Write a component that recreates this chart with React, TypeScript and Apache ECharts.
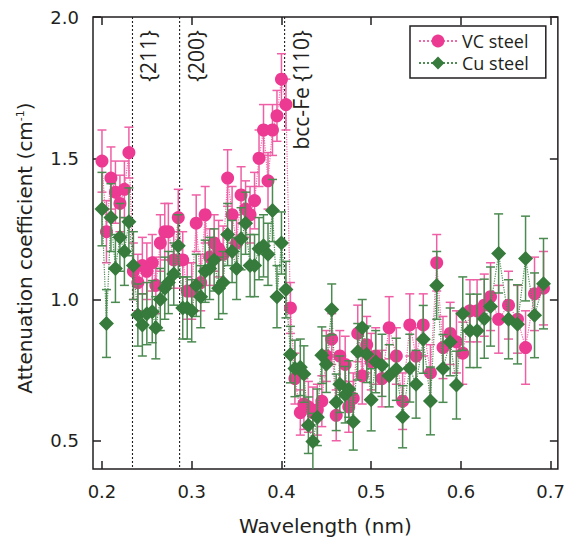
import React, { useEffect, useRef } from 'react';
import * as echarts from 'echarts';

const wavelength = [
  0.200, 0.205, 0.210, 0.215, 0.220, 0.225, 0.230, 0.235, 0.240, 0.245,
  0.250, 0.256, 0.260, 0.265, 0.270, 0.274, 0.280, 0.285, 0.290, 0.295,
  0.300, 0.305, 0.310, 0.315, 0.320, 0.325, 0.330, 0.335, 0.340, 0.345,
  0.350, 0.355, 0.360, 0.365, 0.370, 0.375, 0.380, 0.385, 0.390, 0.395,
  0.400, 0.405, 0.410, 0.415, 0.421, 0.425, 0.430, 0.435, 0.440, 0.445,
  0.450, 0.456, 0.461, 0.465, 0.471, 0.475, 0.480, 0.485, 0.490, 0.495,
  0.500, 0.505, 0.512, 0.520, 0.528, 0.535, 0.543, 0.550, 0.558, 0.566,
  0.573, 0.580, 0.588, 0.595, 0.602, 0.610, 0.618, 0.626, 0.633, 0.642,
  0.653, 0.663, 0.672, 0.682, 0.692,
];

const vcSteel = [
  1.49, 1.24, 1.43, 1.38, 1.34, 1.39, 1.52, 1.10, 1.06, 1.12,
  1.10, 1.13, 1.05, 1.20, 1.24, 1.24, 1.14, 1.29, 1.14, 1.03,
  1.03, 1.27, 1.06, 1.30, 1.15, 1.20, 1.18, 1.16, 1.43, 1.30,
  1.20, 1.37, 1.32, 1.30, 1.35, 1.50, 1.60, 1.42, 1.60, 1.65,
  1.78, 1.69, 0.97, 0.72, 0.60, 0.63, 0.62, 0.60, 0.61, 0.64,
  0.80, 0.86, 0.59, 0.80, 0.77, 0.62, 0.65, 0.88, 0.73, 0.84,
  0.78, 0.80, 0.72, 0.90, 0.80, 0.64, 0.91, 0.80, 0.91, 0.74,
  1.13, 0.83, 0.88, 0.85, 0.81, 0.96, 0.96, 0.98, 1.01, 0.93,
  0.98, 0.93, 0.83, 1.02, 1.04,
];

const vcError = [
  0.11, 0.11, 0.11, 0.11, 0.10, 0.10, 0.09, 0.10, 0.10, 0.10,
  0.10, 0.10, 0.10, 0.10, 0.10, 0.10, 0.10, 0.10, 0.10, 0.10,
  0.10, 0.10, 0.10, 0.10, 0.10, 0.10, 0.10, 0.10, 0.10, 0.10,
  0.10, 0.10, 0.10, 0.10, 0.10, 0.10, 0.09, 0.10, 0.09, 0.09,
  0.09, 0.09, 0.09, 0.09, 0.08, 0.09, 0.09, 0.09, 0.09, 0.09,
  0.09, 0.09, 0.09, 0.09, 0.10, 0.09, 0.09, 0.10, 0.10, 0.10,
  0.10, 0.10, 0.10, 0.11, 0.10, 0.10, 0.11, 0.10, 0.11, 0.10,
  0.10, 0.11, 0.11, 0.11, 0.11, 0.11, 0.11, 0.11, 0.12, 0.12,
  0.12, 0.12, 0.13, 0.13, 0.13,
];

const cuSteel = [
  1.32, 0.915, 1.29, 1.11, 1.22, 1.17, 1.275, 1.12, 0.945, 0.91,
  0.95, 0.957, 0.90, 1.00, 1.04, 1.06, 1.09, 1.19, 0.97, 0.97,
  0.96, 1.05, 1.01, 1.10, 1.11, 1.14, 1.04, 1.06, 1.23, 1.17,
  1.11, 1.215, 1.27, 1.12, 1.12, 1.18, 1.19, 1.16, 1.315, 1.01,
  1.20, 1.035, 0.805, 0.756, 0.76, 0.736, 0.555, 0.497, 0.583, 0.803,
  0.771, 0.965, 0.636, 0.70, 0.663, 0.683, 0.567, 0.815, 0.90, 0.806,
  0.645, 0.78, 0.767, 0.73, 0.753, 0.585, 0.757, 0.70, 0.859, 0.641,
  1.05, 0.756, 0.85, 0.697, 0.95, 0.889, 0.889, 0.932, 0.975, 1.163,
  0.93, 0.912, 1.145, 0.944, 1.056,
];

const cuError = [
  0.13, 0.12, 0.12, 0.12, 0.12, 0.12, 0.12, 0.12, 0.11, 0.11,
  0.11, 0.11, 0.11, 0.11, 0.11, 0.11, 0.11, 0.11, 0.11, 0.11,
  0.11, 0.11, 0.11, 0.11, 0.11, 0.11, 0.11, 0.11, 0.11, 0.11,
  0.11, 0.11, 0.11, 0.11, 0.11, 0.11, 0.11, 0.11, 0.11, 0.11,
  0.11, 0.10, 0.10, 0.10, 0.10, 0.10, 0.10, 0.10, 0.10, 0.10,
  0.10, 0.09, 0.10, 0.10, 0.10, 0.10, 0.10, 0.10, 0.10, 0.10,
  0.11, 0.11, 0.11, 0.11, 0.11, 0.11, 0.12, 0.12, 0.12, 0.12,
  0.12, 0.12, 0.12, 0.12, 0.13, 0.13, 0.13, 0.14, 0.14, 0.14,
  0.14, 0.14, 0.15, 0.15, 0.16,
];

const xTicks = [0.2, 0.3, 0.4, 0.5, 0.6, 0.7];
const yTicks = [0.5, 1.0, 1.5, 2.0];
const reflectionLabels = ['{211}', '{200}', 'bcc-Fe {110}'];
const reflectionPositions = [0.234, 0.2865, 0.4035];

const INK = '#231f20';
const WIDE = '"DejaVu Sans", sans-serif';
const NARROW = '"Open Sans", sans-serif';
const PINK = '#ec3a93';
const GREEN = '#367a3c';

function errorBarRenderer(color: string) {
  return (params: any, api: any) => {
    const x = api.value(0);
    const y = api.value(1);
    const e = api.value(2);
    const cs = params.coordSys;
    const top = api.coord([x, y + e]);
    const bot = api.coord([x, y - e]);
    const yTop = Math.max(top[1], cs.y);
    const yBot = Math.min(bot[1], cs.y + cs.height);
    const half = 4.5;
    const st = { stroke: color, lineWidth: 1.5 };
    const children: any[] = [
      { type: 'line', shape: { x1: top[0], y1: yTop, x2: top[0], y2: yBot }, style: st },
    ];
    if (top[1] >= cs.y) {
      children.push({ type: 'line', shape: { x1: top[0] - half, y1: top[1], x2: top[0] + half, y2: top[1] }, style: st });
    }
    if (bot[1] <= cs.y + cs.height) {
      children.push({ type: 'line', shape: { x1: bot[0] - half, y1: bot[1], x2: bot[0] + half, y2: bot[1] }, style: st });
    }
    return { type: 'group', children };
  };
}

function reflectionRenderer(params: any, api: any) {
  const cs = params.coordSys;
  const x = api.coord([api.value(0), 1])[0];
  return {
    type: 'group',
    children: [
      {
        type: 'line',
        shape: { x1: x, y1: cs.y, x2: x, y2: cs.y + cs.height },
        style: { stroke: INK, lineWidth: 1.1, lineDash: [2, 2] },
      },
      {
        type: 'text',
        x: x + 16,
        y: cs.y + 13,
        rotation: Math.PI / 2,
        style: {
          text: reflectionLabels[params.dataIndex],
          fill: INK,
          fontSize: 21,
          fontFamily: NARROW,
          align: 'right',
          verticalAlign: 'middle',
        },
      },
    ],
  };
}

export default function App() {
  const ref = useRef<HTMLDivElement>(null);

  useEffect(() => {
    if (!ref.current) return;
    const chart = echarts.init(ref.current, undefined, { renderer: 'svg' });

    const vcPoints = wavelength.map((w, i) => [w, vcSteel[i]]);
    const cuPoints = wavelength.map((w, i) => [w, cuSteel[i]]);
    const vcErrData = wavelength.map((w, i) => [w, vcSteel[i], vcError[i]]);
    const cuErrData = wavelength.map((w, i) => [w, cuSteel[i], cuError[i]]);
    const reflectionData = reflectionPositions.map((p) => [p, 1.0]);

    const tickStyle = { color: INK, width: 1.5 };
    const labelStyle = { color: INK, fontSize: 18, fontFamily: WIDE };

    chart.setOption({
      animation: false,
      backgroundColor: '#ffffff',
      grid: {
        left: 93, top: 17, right: 9, bottom: 76,
        show: true, borderColor: INK, borderWidth: 1.5, backgroundColor: 'transparent',
      },
      legend: {
        left: 410, top: 26,
        orient: 'vertical',
        padding: [6, 17, 6, 8],
        borderColor: INK, borderWidth: 1.5,
        backgroundColor: '#ffffff',
        itemWidth: 38, itemHeight: 16, itemGap: 4,
        textStyle: { color: INK, fontSize: 18, fontFamily: NARROW },
        data: ['VC steel', 'Cu steel'],
        z: 20,
      },
      xAxis: [
        {
          type: 'value', min: 0.19, max: 0.708,
          axisLine: { show: false }, splitLine: { show: false },
          axisTick: { show: true, inside: true, length: 8, customValues: xTicks, lineStyle: tickStyle },
          axisLabel: { ...labelStyle, margin: 13, customValues: xTicks, formatter: (v: number) => v.toFixed(1) },
          name: 'Wavelength (nm)', nameLocation: 'middle', nameGap: 47,
          nameTextStyle: { color: INK, fontSize: 20, fontFamily: WIDE },
        },
        {
          type: 'value', min: 0.19, max: 0.708, position: 'top',
          axisLine: { show: false }, splitLine: { show: false },
          axisTick: { show: true, inside: true, length: 8, customValues: xTicks, lineStyle: tickStyle },
          axisLabel: { show: false },
        },
      ],
      yAxis: [
        {
          type: 'value', min: 0.4, max: 2.0,
          axisLine: { show: false }, splitLine: { show: false },
          axisTick: { show: true, inside: true, length: 8, customValues: yTicks, lineStyle: tickStyle },
          axisLabel: { ...labelStyle, margin: 14, customValues: yTicks, formatter: (v: number) => v.toFixed(1) },
        },
        {
          type: 'value', min: 0.4, max: 2.0, position: 'right',
          axisLine: { show: false }, splitLine: { show: false },
          axisTick: { show: true, inside: true, length: 8, customValues: yTicks, lineStyle: tickStyle },
          axisLabel: { show: false },
        },
      ],
      series: [
        {
          type: 'custom', name: 'reflections', renderItem: reflectionRenderer,
          data: reflectionData, encode: { x: 0, y: 1 }, z: 0, silent: true,
        },
        {
          type: 'custom', name: 'vcErr', renderItem: errorBarRenderer('#ef5fa5'),
          data: vcErrData, encode: { x: 0, y: 1 }, z: 1, silent: true,
        },
        {
          type: 'line', name: 'VC steel', data: vcPoints,
          symbol: 'circle', symbolSize: 13,
          itemStyle: { color: PINK },
          lineStyle: { color: '#ef6aab', width: 1.2, type: 'dotted' },
          z: 2,
        },
        {
          type: 'custom', name: 'cuErr', renderItem: errorBarRenderer('#4b8a50'),
          data: cuErrData, encode: { x: 0, y: 1 }, z: 3, silent: true,
        },
        {
          type: 'line', name: 'Cu steel', data: cuPoints,
          symbol: 'diamond', symbolSize: 15,
          itemStyle: { color: GREEN },
          lineStyle: { color: '#4f8d54', width: 1.2, type: 'dotted' },
          z: 4,
        },
      ],
      graphic: [
        {
          type: 'text',
          x: 25, y: 248,
          rotation: Math.PI / 2,
          style: {
            text: '{a|Attenuation coefficient (cm}{s|-1}{a|)}',
            rich: {
              a: { fontSize: 20, fontFamily: WIDE, fill: INK, color: INK },
              s: { fontSize: 11, fontFamily: WIDE, fill: INK, color: INK, verticalAlign: 'top', padding: [0, 0, 10, 0] },
            },
            align: 'center', verticalAlign: 'middle',
          },
        },
      ],
    });

    return () => chart.dispose();
  }, []);

  return (
    <div
      ref={ref}
      style={{ position: 'fixed', left: 0, top: 0, width: 568, height: 545, background: '#fff' }}
    />
  );
}
